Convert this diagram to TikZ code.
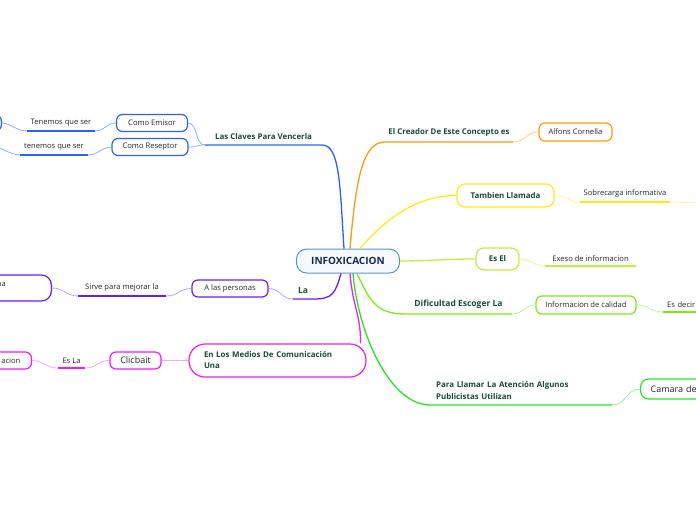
\documentclass[tikz,border=0pt]{standalone}
\usepackage{fontspec}
\setmainfont{Open Sans}
\definecolor{cenblue}{HTML}{4F95D0}
\definecolor{cenfill}{HTML}{F6FAFE}
\definecolor{cennavy}{HTML}{102A4C}
\definecolor{labgreen}{HTML}{174A3A}
\definecolor{txtgray}{HTML}{262626}
\definecolor{cblue}{HTML}{2962FF}
\definecolor{lblue}{HTML}{8AAEFF}
\definecolor{corange}{HTML}{FF9A0A}
\definecolor{lorange}{HTML}{FFCB80}
\definecolor{cyellow}{HTML}{FFEB14}
\definecolor{lyellow}{HTML}{FFF49A}
\definecolor{cygreen}{HTML}{BDF03C}
\definecolor{lygreen}{HTML}{DDF8A2}
\definecolor{cgreen}{HTML}{7AEC10}
\definecolor{lgreen}{HTML}{BAF58C}
\definecolor{cgreenb}{HTML}{22E622}
\definecolor{lgreenb}{HTML}{92F292}
\definecolor{cmagenta}{HTML}{F21BF2}
\definecolor{lmagenta}{HTML}{F8A4F8}
\definecolor{cpurple}{HTML}{6A1BFF}
\definecolor{lpurple}{HTML}{B9A2FF}
\begin{document}
\begin{tikzpicture}[x=1pt,y=-1pt,
  every node/.style={font=\fontsize{7.6}{9}\selectfont, text=txtgray},
  box/.style={draw, fill=white, rounded corners=6pt, line width=1.2pt, minimum height=17pt, inner xsep=6pt},
  bold/.style={font=\fontsize{7.9}{11}\selectfont\bfseries, text=labgreen},
  topic/.style={bold, inner xsep=0pt, inner ysep=5pt, anchor=south},
  leaf/.style={inner xsep=0pt, inner ysep=4pt, anchor=south},
  branch/.style={line width=1.3pt},
  twig/.style={line width=0.8pt}]
  \useasboundingbox (0,0) rectangle (696,520);
  \clip (0,0) rectangle (696,520);

  \node[draw=cenblue, fill=cenfill, line width=1pt, rounded corners=10pt, minimum width=103pt, minimum height=24pt,
    font=\fontsize{10}{12}\selectfont\bfseries, text=cennavy] (cen) at (348,261) {INFOXICACION};

  % las claves
  \node[topic, minimum width=117pt] (claves) at (263.5,145) {Las Claves Para Vencerla};
  \node[box, draw=cblue, minimum width=71pt] (emisor) at (152,123) {Como Emisor};
  \node[box, draw=cblue, minimum width=76pt] (reseptor) at (150,147) {Como Reseptor};
  \node[leaf, minimum width=68pt] (ser1) at (61,131) {Tenemos que ser};
  \node[leaf, minimum width=68pt] (ser2) at (54,155) {tenemos que ser};
  \node[box, draw=cblue, anchor=east, minimum width=60pt, minimum height=16pt] (emisorleaf) at (2,123) {};
  \coordinate (reseptorleaf) at (-14,144);
  \draw[branch,cblue] ([xshift=-4pt]cen.north) .. controls +(-4,-60) and +(18,0) .. (claves.south east) -- (claves.south west);
  \draw[twig,lblue] (claves.south west) .. controls +(-10,0) and +(10,0) .. (emisor.east);
  \draw[twig,lblue] (claves.south west) .. controls +(-10,0) and +(10,0) .. (reseptor.east);
  \draw[twig,lblue] (emisor.west) .. controls +(-10,0) and +(10,0) .. (ser1.south east);
  \draw[twig,lblue] (reseptor.west) .. controls +(-10,0) and +(10,0) .. (ser2.south east);
  \draw[branch,cblue] (ser1.south east) -- (ser1.south west);
  \draw[branch,cblue] (ser2.south east) -- (ser2.south west);
  \draw[twig,lblue] (ser1.south west) .. controls +(-10,0) and +(8,0) .. (emisorleaf.east);
  \draw[twig,lblue] (ser2.south west) .. controls +(-10,0) and +(10,0) .. (reseptorleaf);

  % el creador
  \node[topic, minimum width=128pt] (creador) at (449,142) {El Creador De Este Concepto es};
  \node[box, draw=corange, minimum width=73pt, minimum height=18pt] (alfons) at (575.5,132) {Alfons Cornella};
  \draw[branch,corange] ([xshift=2pt]cen.north) .. controls +(6,-70) and +(-22,0) .. (creador.south west) -- (creador.south east);
  \draw[twig,lorange] (creador.south east) .. controls +(12,0) and +(-12,0) .. (alfons.west);

  % tambien llamada
  \node[box, draw=cyellow, bold, minimum width=97pt, minimum height=23pt, rounded corners=8pt] (tambien) at (505.5,195.5) {Tambien Llamada};
  \node[leaf, minimum width=90pt] (sobre) at (625,202) {Sobrecarga informativa};
  \coordinate (sobreleaf) at (730,204);
  \draw[branch,cyellow] ([xshift=12pt]cen.north) .. controls +(30,-35) and +(-35,0) .. (tambien.west);
  \draw[twig,lyellow] (tambien.east) .. controls +(12,0) and +(-12,0) .. (sobre.south west);
  \draw[branch,cyellow] (sobre.south west) -- (sobre.south east);
  \draw[twig,lyellow] (sobre.south east) -- (sobreleaf);

  % es el
  \node[box, draw=cygreen, bold, minimum width=43pt, minimum height=22pt, rounded corners=8pt] (esel) at (497.5,259) {Es El};
  \node[leaf, minimum width=91pt] (exeso) at (590.5,266) {Exeso de informacion};
  \draw[branch,cygreen] (cen.east) .. controls +(30,0) and +(-30,0) .. (esel.west);
  \draw[twig,lygreen] (esel.east) .. controls +(12,0) and +(-12,0) .. (exeso.south west);
  \draw[branch,cygreen] (exeso.south west) -- (exeso.south east);

  % dificultad
  \node[topic, minimum width=107pt, font=\fontsize{8.5}{11}\selectfont\bfseries] (dificultad) at (458.5,314) {Dificultad Escoger La};
  \node[box, draw=cgreen, minimum width=100pt, minimum height=18pt] (calidad) at (586,305) {Informacion de calidad};
  \node[leaf, anchor=south west, inner xsep=4pt, text width=52pt, align=left] (decir) at (663,312) {Es decir};
  \draw[branch,cgreen] ([xshift=9pt]cen.south) .. controls +(12,25) and +(-30,0) .. (dificultad.south west) -- (dificultad.south east);
  \draw[twig,lgreen] (dificultad.south east) .. controls +(12,0) and +(-12,0) .. (calidad.west);
  \draw[twig,lgreen] (calidad.east) .. controls +(12,0) and +(-12,0) .. (decir.south west);
  \draw[branch,cgreen] (decir.south west) -- (decir.south east);

  % para llamar
  \node[topic, anchor=south west, text width=170pt, align=left, inner xsep=6pt, font=\fontsize{7.9}{12}\selectfont\bfseries] (llamar) at (430,405) {Para Llamar La Atención Algunos\\Publicistas Utilizan};
  \node[box, draw=cgreenb, anchor=west, minimum height=20pt, rounded corners=8pt, inner xsep=10pt, text width=60pt, align=left,
    font=\fontsize{9}{11}\selectfont] (camara) at (640,389) {Camara de};
  \draw[branch,cgreenb] ([xshift=5pt]cen.south) .. controls +(5,60) and +(-40,0) .. (llamar.south west) -- (llamar.south east);
  \draw[twig,lgreenb] (llamar.south east) .. controls +(14,0) and +(-14,0) .. (camara.west);

  % en los medios
  \node[box, draw=cmagenta, bold, minimum height=33pt, rounded corners=16pt, inner xsep=15pt, text width=147pt, align=left,
    font=\fontsize{7.9}{11}\selectfont\bfseries] (medios) at (277.5,360.5) {En Los Medios De Comunicación\\Una};
  \node[box, draw=cmagenta, minimum width=51pt, font=\fontsize{9}{11}\selectfont] (clic) at (135.5,360.5) {Clicbait};
  \node[leaf, minimum width=27pt] (esla) at (71.5,368) {Es La};
  \node[box, draw=cmagenta, anchor=east, inner xsep=11pt, text width=40pt, align=right] (acion) at (32,360.5) {acion};
  \draw[branch,cmagenta] ([xshift=2pt]cen.south) .. controls +(3,35) and +(0,-30) .. ([xshift=-6pt]medios.north east);
  \draw[twig,lmagenta] (medios.west) -- (clic.east);
  \draw[twig,lmagenta] (clic.west) .. controls +(-12,0) and +(12,0) .. (esla.south east);
  \draw[branch,cmagenta] (esla.south east) -- (esla.south west);
  \draw[twig,lmagenta] (esla.south west) .. controls +(-12,0) and +(12,0) .. (acion.east);

  % la
  \node[topic, minimum width=20pt, font=\fontsize{8.5}{11}\selectfont\bfseries] (la) at (303,299) {La};
  \node[box, draw=cpurple, minimum width=76pt] (personas) at (230,288.5) {A las personas};
  \node[leaf, minimum width=88pt] (sirve) at (122,296) {Sirve para mejorar la};
  \node[box, draw=cpurple, anchor=east, minimum width=70pt, minimum height=26pt, rounded corners=10pt] (mejorar) at (52,288) {};
  \node[anchor=east, inner sep=0pt] (mejorartxt) at (6,284) {na};
  \draw[branch,cpurple] ([xshift=-7pt]cen.south) .. controls +(-6,20) and +(20,0) .. (la.south east) -- (la.south west);
  \draw[twig,lpurple] (la.south west) .. controls +(-12,0) and +(12,0) .. (personas.east);
  \draw[twig,lpurple] (personas.west) .. controls +(-12,0) and +(12,0) .. (sirve.south east);
  \draw[branch,cpurple] (sirve.south east) -- (sirve.south west);
  \draw[twig,lpurple] (sirve.south west) .. controls +(-12,0) and +(12,0) .. (mejorar.east);
\end{tikzpicture}
\end{document}
